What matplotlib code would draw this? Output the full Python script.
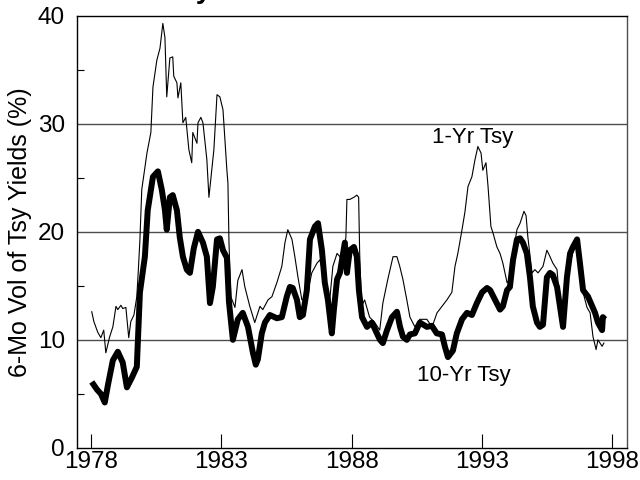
import matplotlib
matplotlib.use("Agg")
import matplotlib.pyplot as plt
from matplotlib.ticker import MultipleLocator

plt.rcParams["font.family"] = ["Liberation Sans", "DejaVu Sans"]

# 6-month volatility of 1-year Treasury yields (%)
yr1_dates = [
    1978.02, 1978.10, 1978.25, 1978.37, 1978.48, 1978.56, 1978.71, 1978.83, 1978.95,
    1979.02, 1979.14, 1979.21, 1979.33, 1979.41, 1979.44, 1979.52, 1979.64, 1979.75,
    1979.81, 1979.87, 1979.94, 1980.14, 1980.29, 1980.37, 1980.52, 1980.64, 1980.75,
    1980.83, 1980.90, 1981.02, 1981.13, 1981.17, 1981.29, 1981.33, 1981.44, 1981.52,
    1981.63, 1981.75, 1981.86, 1981.90, 1982.06, 1982.10, 1982.21, 1982.29, 1982.44,
    1982.52, 1982.63, 1982.71, 1982.83, 1982.94, 1983.06, 1983.21, 1983.25, 1983.29,
    1983.36, 1983.52, 1983.63, 1983.79, 1983.90, 1984.09, 1984.28, 1984.48, 1984.59,
    1984.79, 1984.94, 1985.13, 1985.32, 1985.44, 1985.55, 1985.71, 1985.82, 1985.94,
    1986.09, 1986.28, 1986.47, 1986.67, 1986.78, 1986.97, 1987.16, 1987.28, 1987.44,
    1987.55, 1987.67, 1987.78, 1987.82, 1987.93, 1988.09, 1988.20, 1988.27, 1988.31,
    1988.38, 1988.50, 1988.69, 1988.89, 1989.08, 1989.20, 1989.39, 1989.59, 1989.74,
    1989.85, 1989.97, 1990.12, 1990.24, 1990.43, 1990.62, 1990.89, 1991.09, 1991.28,
    1991.47, 1991.66, 1991.85, 1991.97, 1992.08, 1992.24, 1992.35, 1992.47, 1992.62,
    1992.74, 1992.85, 1992.97, 1993.04, 1993.16, 1993.24, 1993.35, 1993.43, 1993.58,
    1993.70, 1993.81, 1993.97, 1994.08, 1994.20, 1994.35, 1994.47, 1994.62, 1994.70,
    1994.77, 1994.93, 1995.04, 1995.16, 1995.35, 1995.50, 1995.62, 1995.73, 1995.89,
    1996.00, 1996.12, 1996.27, 1996.46, 1996.58, 1996.70, 1996.77, 1996.89, 1997.04,
    1997.16, 1997.27, 1997.39, 1997.46, 1997.62, 1997.69,
]
yr1_vol = [
    12.6, 11.7, 10.7, 10.2, 10.9, 8.8, 10.3, 11.2, 13.1,
    12.8, 13.2, 12.9, 13.0, 10.9, 10.2, 11.7, 12.3, 14.0,
    16.5, 19.3, 23.9, 27.3, 29.2, 33.4, 35.9, 37.0, 39.3,
    38.0, 32.5, 36.1, 36.2, 34.4, 33.8, 32.4, 33.8, 30.1,
    30.6, 27.6, 26.4, 29.2, 28.2, 30.1, 30.6, 30.1, 26.7,
    23.2, 25.7, 27.6, 32.7, 32.5, 31.3, 25.7, 24.5, 19.0,
    14.0, 13.0, 15.5, 16.5, 14.9, 13.1, 11.6, 13.1, 12.8,
    13.7, 14.0, 15.3, 16.8, 19.0, 20.2, 19.3, 17.7, 15.8,
    13.7, 14.0, 16.2, 17.1, 17.4, 15.6, 13.7, 16.8, 18.0,
    17.7, 17.4, 19.5, 23.0, 23.0, 23.2, 23.4, 23.2, 18.0,
    13.1, 13.7, 12.1, 11.6, 10.9, 13.4, 15.6, 17.7, 17.7,
    16.8, 15.6, 13.7, 12.1, 11.2, 11.9, 11.9, 11.2, 12.5,
    13.1, 13.7, 14.4, 16.8, 18.0, 20.2, 21.8, 24.2, 25.1,
    26.7, 27.9, 27.3, 25.7, 26.4, 24.2, 20.5, 19.9, 18.6,
    18.0, 17.1, 15.3, 15.6, 18.0, 20.2, 20.8, 21.9, 21.5,
    19.5, 16.2, 16.5, 16.2, 16.8, 18.3, 17.7, 17.1, 16.5,
    13.1, 11.2, 17.1, 17.7, 19.0, 18.6, 16.5, 14.4, 13.0,
    12.5, 10.3, 9.1, 10.0, 9.4, 9.7,
]

# 6-month volatility of 10-year Treasury yields (%)
yr10_dates = [
    1978.02, 1978.22, 1978.37, 1978.52, 1978.64, 1978.83, 1979.02, 1979.21, 1979.37,
    1979.56, 1979.75, 1979.87, 1980.06, 1980.17, 1980.37, 1980.56, 1980.71, 1980.83,
    1980.90, 1981.02, 1981.13, 1981.29, 1981.40, 1981.52, 1981.67, 1981.79, 1981.94,
    1982.10, 1982.29, 1982.44, 1982.56, 1982.67, 1982.83, 1982.94, 1983.06, 1983.21,
    1983.29, 1983.44, 1983.63, 1983.82, 1984.02, 1984.09, 1984.21, 1984.32, 1984.40,
    1984.55, 1984.67, 1984.86, 1985.13, 1985.32, 1985.51, 1985.63, 1985.74, 1985.90,
    1986.01, 1986.13, 1986.28, 1986.40, 1986.59, 1986.71, 1986.86, 1986.97, 1987.09,
    1987.24, 1987.32, 1987.44, 1987.55, 1987.74, 1987.82, 1987.93, 1988.09, 1988.20,
    1988.28, 1988.40, 1988.59, 1988.78, 1988.97, 1989.09, 1989.20, 1989.36, 1989.55,
    1989.74, 1989.86, 1989.97, 1990.12, 1990.24, 1990.43, 1990.62, 1990.89, 1991.08,
    1991.27, 1991.47, 1991.58, 1991.70, 1991.89, 1992.04, 1992.24, 1992.43, 1992.62,
    1992.81, 1993.01, 1993.20, 1993.32, 1993.51, 1993.70, 1993.81, 1993.97, 1994.08,
    1994.20, 1994.35, 1994.47, 1994.58, 1994.73, 1994.85, 1994.96, 1995.12, 1995.23,
    1995.35, 1995.50, 1995.62, 1995.73, 1995.89, 1996.00, 1996.12, 1996.27, 1996.39,
    1996.50, 1996.66, 1996.77, 1996.89, 1997.08, 1997.24, 1997.35, 1997.46, 1997.62,
    1997.65, 1997.73,
]
yr10_vol = [
    6.1, 5.4, 5.0, 4.2, 5.8, 8.1, 8.9, 7.9, 5.6,
    6.5, 7.5, 14.4, 17.7, 22.0, 25.1, 25.6, 23.9, 22.0,
    20.2, 23.2, 23.4, 22.0, 19.5, 17.7, 16.5, 16.2, 18.5,
    20.0, 19.0, 17.7, 13.4, 14.9, 19.3, 19.4, 18.3, 17.6,
    13.5, 10.0, 11.9, 12.5, 11.2, 10.3, 8.8, 7.7, 8.2,
    10.6, 11.6, 12.3, 12.0, 12.1, 14.0, 14.9, 14.8, 13.7,
    12.1, 12.3, 14.6, 19.3, 20.5, 20.8, 18.3, 15.3, 13.7,
    10.6, 12.8, 15.6, 16.2, 19.0, 16.2, 18.3, 18.6, 17.7,
    14.6, 12.1, 11.2, 11.6, 10.6, 10.0, 9.7, 10.9, 12.1,
    12.6, 11.2, 10.3, 10.0, 10.5, 10.6, 11.6, 11.2, 11.3,
    10.6, 10.5, 9.4, 8.4, 9.0, 10.6, 11.9, 12.5, 12.3,
    13.4, 14.4, 14.8, 14.6, 13.7, 12.8, 13.1, 14.6, 14.9,
    17.4, 19.3, 19.4, 19.0, 18.0, 15.8, 13.1, 11.6, 11.2,
    11.4, 15.8, 16.2, 16.0, 14.9, 13.1, 11.2, 15.8, 18.0,
    18.6, 19.3, 17.1, 14.6, 14.0, 13.1, 12.5, 11.6, 10.9,
    12.1, 11.9,
]

year_ticks = [1978, 1983, 1988, 1993, 1998]

fig = plt.figure(figsize=(6.4, 4.8), dpi=100)
ax = fig.add_axes([0.121, 0.067, 0.858, 0.900])

for y in (10, 20, 30):
    ax.axhline(y, color="#4d4d4d", lw=1.0, zorder=1)

ax.plot(yr1_dates, yr1_vol, color="black", lw=0.8, zorder=3)
ax.plot(yr10_dates, yr10_vol, color="black", lw=4.3, solid_capstyle="butt", zorder=2)

ax.set_xlim(1977.47, 1998.56)
ax.set_ylim(0, 40)
ax.set_xticks(year_ticks)
ax.set_xticklabels([str(t) for t in year_ticks])
ax.yaxis.set_major_locator(MultipleLocator(10))
ax.yaxis.set_minor_locator(MultipleLocator(5))

ax.tick_params(axis="x", direction="in", length=10, width=0.8, labelsize=17.5, pad=2)
ax.tick_params(axis="y", which="major", direction="in", length=0, labelsize=17.5, pad=9)
ax.tick_params(axis="y", which="minor", direction="in", length=5, width=0.8)
for side in ("top", "bottom", "left", "right"):
    ax.spines[side].set_linewidth(1.0)
ax.spines["right"].set_color("#4d4d4d")

ax.set_ylabel("6-Mo Vol of Tsy Yields (%)", fontsize=18, labelpad=4)

ax.text(1992.65, 29.75, "1-Yr Tsy", fontsize=16, ha="center", va="top")
ax.text(1992.3, 7.7, "10-Yr Tsy", fontsize=16, ha="center", va="top")

fig.text(0.330, 1.004, "Yield Volatility", fontsize=20, fontweight="bold",
         ha="right", va="baseline")

fig.savefig("out.png", dpi=100)
